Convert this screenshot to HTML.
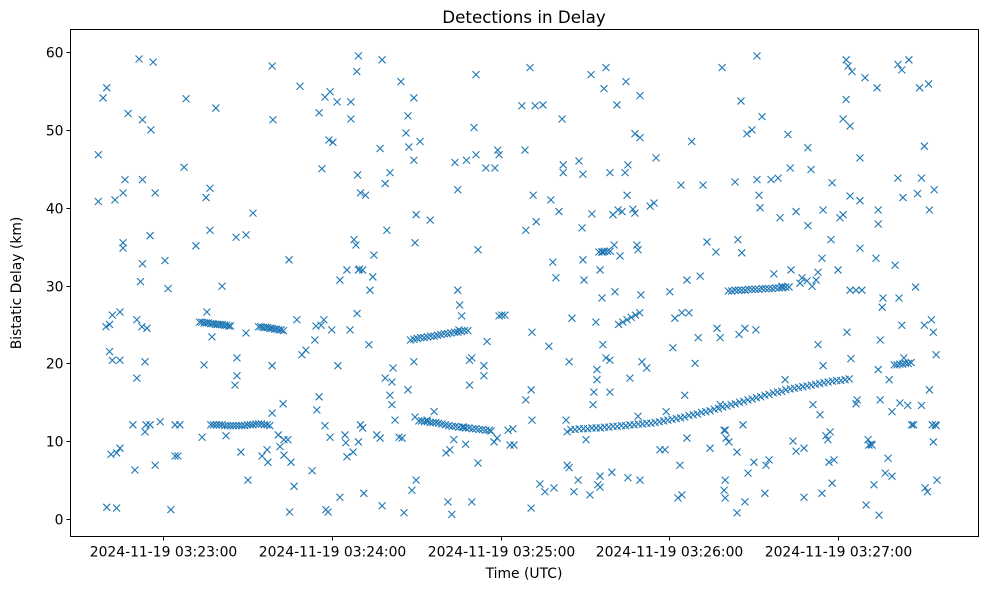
<!DOCTYPE html>
<html><head><meta charset="utf-8"><style>
html,body{margin:0;padding:0;background:#fff;}
svg text{font-family:"DejaVu Sans","Liberation Sans",sans-serif;fill:#000;}
</style></head><body>
<svg id="chart" width="989" height="590" xmlns="http://www.w3.org/2000/svg">
<rect x="0" y="0" width="989" height="590" fill="#fff"/>
<text x="524" y="23" font-size="16.7" text-anchor="middle">Detections in Delay</text>
<text x="524" y="578" font-size="13.9" text-anchor="middle">Time (UTC)</text>
<text x="21" y="283" font-size="13.9" text-anchor="middle" transform="rotate(-90 21 283)">Bistatic Delay (km)</text>
<g id="marks"></g>
<g id="axes"></g>
<rect x="70.5" y="29.5" width="908" height="507" fill="none" stroke="#000" stroke-width="1"/>
</svg>
<script>
// x ticks: seconds after 2024-11-19 03:22:00
const xTickValues = [60, 120, 180, 240, 300];
const xTickLabels = ["2024-11-19 03:23:00","2024-11-19 03:24:00","2024-11-19 03:25:00","2024-11-19 03:26:00","2024-11-19 03:27:00"];
const yTickValues = [0,10,20,30,40,50,60];
const yTickLabels = ["0","10","20","30","40","50","60"];

// scattered detections
const times = [37,37,38.7,40,39.7,41,41,41.5,42,42,42.9,43.5,40,43.5,44.7,44.7,44.7,45.8,45.8,46.5,45.8,47.6,49.3,50,50.7,50.7,51.5,52,52.5,52.7,52.7,52.7,53.6,53.6,54,54.3,55.4,55.7,56.5,57.2,57.2,55.4,59,60.7,61.8,62.8,64.3,65.3,64.3,66,67.5,68.2,
71.7,73.9,74.6,75.3,75.6,76.7,76.7,77.4,78.8,81,82.4,86.3,86.3,85.6,86,87.7,89.5,89.5,90.2,92,95.2,97,97.3,98.8,98.8,98.8,99.1,101,101.6,102.7,103,103,104.4,104.8,105,105.5,106.6,107.6,108.7,109.4,110.8,113,114,114.4,114.7,115.5,116.2,116.5,115.5,117.2,117.6,117.9,118.7,117.6,119.4,119,120.4,119.4,120,121.9,122.2,122.9,122.9,124.7,125,125.4,125.4,126.5,126.8,126.8,127.6,127.9,128.6,128.9,129.5,129.2,129.9,130.2,129.5,129,129.5,130.2,131,131,131.4,132,133.2,133.6,134.6,135,136,137.2,137.2,137.9,137.9,139,139,139.6,140.7,140.7,141.4,141.4,141.8,142.5,143.9,145,144.6,145.7,146.4,147.1,147.1,147.4,148.5,149.2,149.2,149.2,149.6,150,150,149.6,151.4,153.9,155,156.4,
160.6,161.3,162.7,162,163.4,163.8,164.8,165.2,164.8,165.5,166.2,166.9,167.6,167.9,169,169,169.8,169.8,170.6,171.3,171.3,172,172,174.1,174.1,174.8,175.2,176.6,177.7,178,178.8,179,179.5,179.5,180.5,181.6,182.7,183.4,184.4,184.8,187.6,188.7,189,189,190.5,190.9,190.9,191.2,191.2,191.6,192.3,192.7,194,195.1,195.8,197.2,197.9,198.6,199,199.7,200.8,201.9,202.3,202.3,203.3,203.7,203.7,204.4,204.4,205.4,206.1,207.6,207.9,209.3,209,209.3,209.7,210.4,211.8,212.2,212.5,212.9,213.2,213.9,214.3,214.3,214.6,215.4,215.4,215.4,216.1,216.4,216.4,216.8,217.5,217.5,218.9,218.9,218.9,219.6,220,220.4,220.7,221.4,221.8,222.5,223.2,224.3,224.6,225,225.3,225.3,226,227.1,227.8,227.8,228.5,228.9,228.9,229.6,229.6,229.6,229.9,230.3,232,233.2,234.6,235.3,236.7,238.5,238.9,240.2,241.3,242,243.1,243.8,244.2,244.5,244.5,245.5,246.3,246.3,247,248,249.2,250.3,251,252,253.4,254.5,256.6,257,258.1,258.1,258.8,259.5,259.9,259.5,259.9,260.2,259.9,261.2,
263.4,264.1,264.1,264.4,264.8,265.5,265.8,266.2,266.9,266.9,267.6,268,269.4,270.1,270.8,271.2,271.2,271.9,272.3,273,274,274.4,275.5,276.2,277.2,278.7,279.4,280.1,281.2,282.2,283,283.3,284,285.1,285.1,286.5,287.2,287.9,287.9,289,289.3,289.3,290.4,290.8,291.1,292.2,292.9,292.9,293.6,294.3,294.3,294.7,294.7,295.7,296.8,296.4,297.2,297.5,297.9,297.9,298.6,300,300.7,301.8,301.8,302.9,302.9,303.2,303.6,304.3,304.3,304.3,304.6,305,306.4,306.4,306.8,307.8,307.8,307.8,308.5,309.6,310,310.7,311,312.1,311.8,312.8,313.5,313.9,314.3,314.3,314.3,315,314.6,315,315.7,316,316.8,317.8,318.2,319.2,319.2,320.3,321.3,321.3,321.7,322,322.7,322.7,323.1,323.4,325.2,324.8,326.2,326.9,327.6,328.3,329,329.7,329.7,330.7,330.7,331,331.8,332.2,332.5,332.5,333.2,333.5,333.9,333.9,334.2,334.6,334.9,334.9,335.2];
const delays = [46.8,40.8,54.1,55.4,24.7,25,21.5,8.3,20.4,26.2,41,1.4,1.5,8.5,26.6,20.4,9.1,35.5,34.8,43.6,41.9,52.1,12.1,6.3,25.6,18.1,59.1,30.5,24.7,32.8,43.6,51.3,11.2,20.2,12.1,24.5,36.4,50,58.7,41.9,6.9,12.1,12.5,33.2,29.6,1.2,8.1,8.1,12.1,12.1,45.2,54,
35.1,10.5,19.8,41.3,26.6,42.5,37.1,23.4,52.8,29.9,10.7,20.7,18.4,17.2,36.2,8.6,36.5,23.9,5,39.3,8.1,8.9,7.3,19.7,13.6,58.2,51.3,10.8,9.3,14.8,10.2,8.2,10.2,33.3,0.9,7.3,4.2,25.6,55.6,21.1,21.7,6.2,23,24.8,14,15.7,24.9,45,52.2,25.6,12,1.2,0.9,54.2,54.9,48.7,48.4,10.5,24.3,53.6,19.7,30.7,2.8,10.8,9.8,8,32,24.3,53.6,51.4,8.6,35.9,35.2,57.5,59.5,44.2,32.1,41.9,9.9,26.4,32,12.1,32,11.7,3.3,41.6,22.4,29.4,31.1,33.9,10.8,47.6,10.4,1.7,59,43.1,18.1,37.1,44.5,15.9,17.6,14.7,19.4,12.7,10.5,10.4,56.2,0.8,49.6,16.6,51.8,47.8,3.7,54.1,20.2,46.1,35.5,39.1,5,13.1,48.5,12.7,38.4,13.8,
8.5,2.2,0.6,8.9,10.2,45.8,42.3,24.3,29.4,27.5,26.1,11.8,9.6,46.1,17.2,20.4,20.7,2.2,50.3,57.1,46.8,34.6,7.2,19.7,18.4,45.1,22.8,11.3,9.9,45.1,10.4,47.4,46.8,26.1,26.2,26.2,11.4,9.5,11.6,9.5,53.1,47.4,37.1,15.3,58,16.6,1.4,12.7,24,41.6,53.1,38.2,4.5,53.2,3.5,22.2,41,33,4,31,39.5,51.4,44.5,45.5,12.7,11.2,6.9,6.6,20.2,25.8,3.5,5,46,44.3,37.4,33.3,30.7,10.2,3.1,57.1,39.2,14.7,16.3,25.3,19.2,17.9,4.4,4.1,32,5.5,28.4,22.4,34.3,55.3,58,20.7,44.5,20.4,16.3,6,39.1,35.2,29.2,53.2,39.7,33.8,39.5,44.5,56.2,41.6,45.5,5.3,18.1,39.8,49.5,39.3,35.2,13.2,34.6,49,54.4,5,28.8,20.2,19.4,40.2,40.6,46.4,8.9,8.9,13.8,29.2,22,25.8,2.7,6.9,42.9,3.1,26.5,15.9,10.4,30.7,26.5,48.5,20,23.3,31.2,42.9,35.6,9.1,34.3,24.5,14.7,23.3,58,3.7,5,11.4,11.4,10.4,2.7,9.9,
43.3,0.8,8.6,35.9,23.7,53.7,34.2,12.1,24.5,2.2,49.5,5.9,50,7.3,24.3,59.5,43.6,41.6,40,51.7,3.3,6.9,7.6,43.6,31.5,43.8,38.7,29.9,17.9,49.4,45.1,32,10,8.7,39.5,30.3,31,2.8,9.1,30.6,37.7,47.7,44.9,29.9,14.7,30.7,22.4,31.7,13.4,33.5,3.3,19.7,39.7,10.7,7.3,10.2,11.2,35.9,43.2,4.6,7.6,32,38.7,39.1,51.4,59,53.9,24,58.2,50.5,29.4,41.5,20.6,57.5,29.4,14.8,15.3,34.8,46.4,40.9,29.4,56.7,1.8,10.2,9.5,9.5,9.6,4.4,33.5,55.4,39.7,37.9,19.2,15.3,0.5,23,27.2,28.4,5.9,7.8,17.9,13.8,5.5,32.6,58.4,43.8,28.4,14.9,24.9,57.7,41.3,20.7,59,14.6,12.1,12.1,29.8,41.8,55.4,43.8,14.6,24.9,47.9,4,3.5,55.9,39.7,16.6,25.6,12.1,24,9.9,42.3,12.1,12,21.1,5];

// dense tracks
const trackTimes = [73,73.8,74.6,75.4,76.2,77,77.8,78.6,79.4,80.2,81,81.8,82.6,83.4,84,
94,94.8,95.6,96.4,97.2,98,98.8,99.6,100.4,101.2,102,102.8,
77,78,79,80,81,82,83,84,85,86,87,88,89,90,91,92,93,94,95,96,97,98,
148,149.2,150.4,151.6,152.8,154,155.2,156.4,157.6,158.8,160,161.2,162.4,163.6,164.8,166,167.2,168.4,
151,152,153,154,155,156,157,158,159.2,160.4,161.6,162.8,164,165.2,166.4,167.6,168.8,170,171.2,172.4,173.6,174.8,176,
205,206.5,208,209.5,211,212.5,214,215.5,217,218.5,220,221.5,223,224.5,226,227.5,229,230.5,232,233.5,235,236.5,238,239.5,241,242.5,244,245.5,247,248.5,250,251.5,253,254.5,256,257.5,259,260.5,262,263.5,265,266.5,268,269.5,271,272.5,274,275.5,277,278.5,280,281.5,283,284.5,286,287.5,289,290.5,292,293.5,295,296.5,298,299.5,301,302.5,304,
261,262.2,263.4,264.6,265.8,267,268.2,269.4,270.6,271.8,273,274.2,275.4,276.6,277.8,279,280.2,281.4,282.6,
320,321,322,323,324,325,326,
215,216,217,218,219,222,223.5,225,226.5,228,229.5];
const trackDelays = [25.3,25.3,25.2,25.2,25.2,25.1,25.1,25,25,25,25,24.9,24.9,24.8,24.8,
24.7,24.7,24.6,24.6,24.6,24.5,24.5,24.4,24.4,24.3,24.3,24.2,
12.1,12.1,12.1,12.1,12.1,12,12,12,12,12,12,12,12,12.1,12.1,12.1,12.2,12.2,12.2,12.1,12.1,12,
23,23.1,23.2,23.3,23.3,23.4,23.5,23.5,23.6,23.7,23.8,23.8,23.9,24,24,24.1,24.2,24.2,
12.6,12.6,12.5,12.5,12.4,12.4,12.4,12.3,12.2,12.1,12,11.9,11.9,11.8,11.8,11.7,11.7,11.6,11.6,11.5,11.5,11.4,11.4,
11.5,11.5,11.6,11.6,11.6,11.7,11.7,11.7,11.8,11.8,11.9,11.9,12,12,12.1,12.1,12.2,12.2,12.3,12.3,12.4,12.5,12.6,12.7,12.8,12.9,13,13.1,13.3,13.4,13.5,13.7,13.8,13.9,14.1,14.2,14.4,14.5,14.7,14.8,15,15.1,15.3,15.4,15.6,15.7,15.9,16,16.2,16.3,16.4,16.6,16.7,16.8,16.9,17,17.1,17.2,17.3,17.4,17.5,17.6,17.7,17.8,17.8,17.9,18,
29.3,29.3,29.4,29.4,29.4,29.4,29.5,29.5,29.5,29.5,29.6,29.6,29.6,29.6,29.7,29.7,29.7,29.8,29.8,
19.8,19.8,19.9,19.9,20,20,20.1,
34.3,34.3,34.4,34.4,34.4,25,25.3,25.6,25.9,26.2,26.5];

const NS = "http://www.w3.org/2000/svg";
const X0 = 70.5, X1 = 978.5, Y0 = 29.5, Y1 = 536.5;
function xScale(t){ return 163 + (t - 60) * 2.8125; }
function yScale(d){ return 519 - d * 7.783; }

const marks = document.getElementById('marks');
function drawX(t, d){
  const cx = xScale(t), cy = yScale(d), r = 3.5;
  const p = document.createElementNS(NS, 'path');
  p.setAttribute('d', `M${cx-r},${cy-r}L${cx+r},${cy+r}M${cx-r},${cy+r}L${cx+r},${cy-r}`);
  p.setAttribute('stroke', '#1f77b4');
  p.setAttribute('stroke-width', '1.1');
  p.setAttribute('fill', 'none');
  
  
  marks.appendChild(p);
}
for (let i = 0; i < times.length; i++) drawX(times[i], delays[i]);
for (let i = 0; i < trackTimes.length; i++) drawX(trackTimes[i], trackDelays[i]);

const axes = document.getElementById('axes');
for (let i = 0; i < xTickValues.length; i++) {
  const x = Math.round(xScale(xTickValues[i])) + 0.5;
  const l = document.createElementNS(NS, 'line');
  l.setAttribute('x1', x); l.setAttribute('x2', x);
  l.setAttribute('y1', Y1); l.setAttribute('y2', Y1 + 4);
  l.setAttribute('stroke', '#000');
  
  
  axes.appendChild(l);
  const tx = document.createElementNS(NS, 'text');
  tx.setAttribute('x', x); tx.setAttribute('y', Y1 + 20);
  tx.setAttribute('font-size', '13.9'); tx.setAttribute('text-anchor', 'middle');
  tx.textContent = xTickLabels[i];
  
  
  axes.appendChild(tx);
}
for (let i = 0; i < yTickValues.length; i++) {
  const y = Math.round(yScale(yTickValues[i])) + 0.5;
  const l = document.createElementNS(NS, 'line');
  l.setAttribute('x1', X0 - 4); l.setAttribute('x2', X0);
  l.setAttribute('y1', y); l.setAttribute('y2', y);
  l.setAttribute('stroke', '#000');
  
  
  axes.appendChild(l);
  const tx = document.createElementNS(NS, 'text');
  tx.setAttribute('x', X0 - 7); tx.setAttribute('y', y + 5);
  tx.setAttribute('font-size', '13.9'); tx.setAttribute('text-anchor', 'end');
  tx.textContent = yTickLabels[i];
  
  
  axes.appendChild(tx);
}
</script>
</body></html>
